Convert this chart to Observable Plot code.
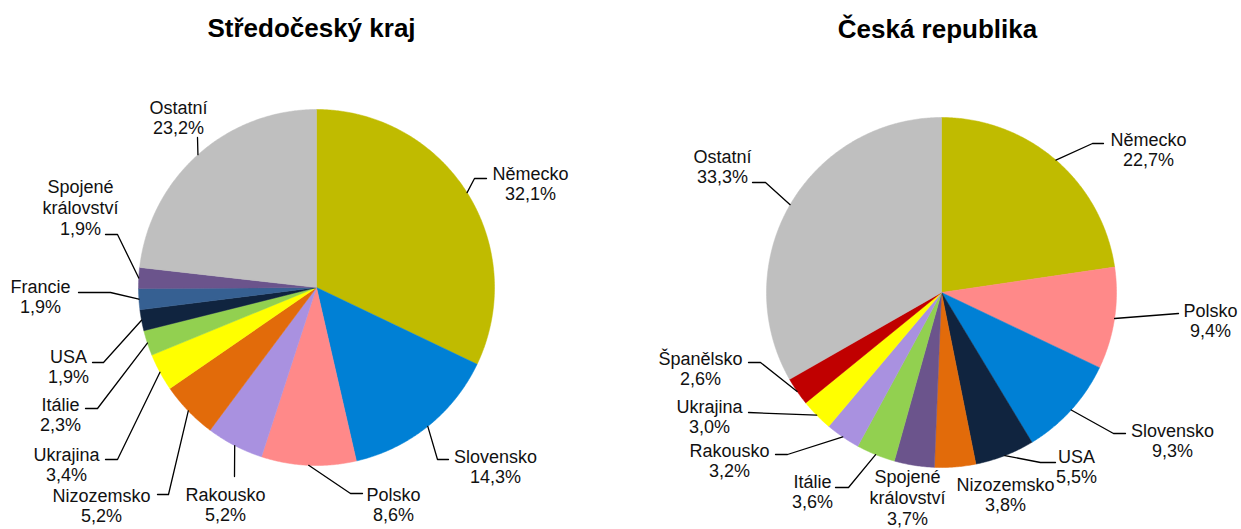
<!DOCTYPE html>
<html>
<head>
<meta charset="utf-8">
<script src="https://cdn.jsdelivr.net/npm/d3@7"></script>
<script src="https://cdn.jsdelivr.net/npm/@observablehq/plot@0.6"></script>
<style>
  html, body { margin: 0; padding: 0; background: #fff; }
  #chart svg { display: block; }
</style>
</head>
<body>
<div id="chart"></div>
<script>
// ---- Data ----
const titles = ["Středočeský kraj", "Česká republika"];

const scCountries = ["Německo", "Slovensko", "Polsko", "Rakousko", "Nizozemsko", "Ukrajina", "Itálie", "USA", "Francie", "Spojené království", "Ostatní"];
const scValues = [32.1, 14.3, 8.6, 5.2, 5.2, 3.4, 2.3, 1.9, 1.9, 1.9, 23.2];

const crCountries = ["Německo", "Polsko", "Slovensko", "USA", "Nizozemsko", "Spojené království", "Itálie", "Rakousko", "Ukrajina", "Španělsko", "Ostatní"];
const crValues = [22.7, 9.4, 9.3, 5.5, 3.8, 3.7, 3.6, 3.2, 3.0, 2.6, 33.3];

const colorDomain = ["Německo", "Slovensko", "Polsko", "Rakousko", "Nizozemsko", "Ukrajina", "Itálie", "USA", "Francie", "Spojené království", "Španělsko", "Ostatní"];
const colorRange = ["#C0BB00", "#0080D5", "#FF8989", "#A991E0", "#E26B0A", "#FFFF00", "#92D050", "#10243F", "#366092", "#6B548C", "#C00000", "#BFBFBF"];

// ---- Layout (pixels) ----
const W = 1241, H = 529;
const pies = [
  {cx: 316, cy: 287, r: 178, titleX: 311, titleY: 28},
  {cx: 941, cy: 292, r: 175, titleX: 937, titleY: 29}
];
// label block centre [x, y], leader polyline after the arc point (null = no leader)
const scLabelPos = [[530, 183], [495, 466], [393, 504], [225, 504], [101, 505], [66, 464], [60, 414], [68, 366], [40, 296], [80, 207], [178, 117]];
const scLeaders = [
  [[474, 178], [486, 178]],
  [[437, 459], [448, 459]],
  [[350, 493], [362, 493]],
  [[234, 476]],
  [[168, 494], [157, 494]],
  [[117, 459], [105, 459]],
  [[97, 408], [85, 408]],
  [[103, 362], [92, 362]],
  [[110, 292], [78, 292]],
  [[117, 234], [105, 234]],
  [[197, 137]]
];
const crLabelPos = [[1148, 149], [1210, 320], [1172, 440], [1076, 466], [1005, 494], [907, 497], [812, 491], [729, 460], [709, 416], [700, 368], [722, 166]];
const crLeaders = [
  [[1092, 143], [1103, 143]],
  [[1178, 313]],
  [[1113, 433], [1125, 433]],
  [[1040, 462], [1055, 462]],
  null,
  null,
  [[848, 487], [835, 487]],
  [[787, 454], [775, 454]],
  [[748, 412]],
  [[760, 362], [748, 362]],
  [[765, 182], [752, 182]]
];

// ---- Build mark data ----
const fmt = v => v.toFixed(1).replace(".", ",") + "%";
const series = [
  {names: scCountries, values: scValues, pos: scLabelPos, leaders: scLeaders, pie: pies[0]},
  {names: crCountries, values: crValues, pos: crLabelPos, leaders: crLeaders, pie: pies[1]}
];

const slicePts = [], leaderPts = [], labels = [], titleRows = [];
series.forEach((s, si) => {
  const {cx, cy, r} = s.pie;
  const arcs = d3.pie().sort(null).value(d => d)(s.values);
  arcs.forEach((a, i) => {
    const id = si + "-" + i;
    const name = s.names[i];
    const n = Math.max(2, Math.ceil((a.endAngle - a.startAngle) / (Math.PI / 360)));
    slicePts.push({id, name, x: cx, y: cy});
    for (let k = 0; k <= n; k++) {
      const t = a.startAngle + (a.endAngle - a.startAngle) * k / n;
      slicePts.push({id, name, x: cx + r * Math.sin(t), y: cy - r * Math.cos(t)});
    }
    slicePts.push({id, name, x: cx, y: cy});
    const mid = (a.startAngle + a.endAngle) / 2;
    const ld = s.leaders[i];
    if (ld) {
      leaderPts.push({id, x: cx + r * Math.sin(mid), y: cy - r * Math.cos(mid)});
      ld.forEach(p => leaderPts.push({id, x: p[0], y: p[1]}));
    }
    const label = name.replace(" ", "\n") + "\n" + fmt(s.values[i]);
    labels.push({x: s.pos[i][0], y: s.pos[i][1], text: label});
  });
  titleRows.push({x: s.pie.titleX, y: s.pie.titleY, text: titles[si]});
});

const chart = Plot.plot({
  width: W,
  height: H,
  margin: 0,
  x: {domain: [0, W], range: [0, W], axis: null},
  y: {domain: [0, H], range: [0, H], axis: null},
  color: {type: "ordinal", domain: colorDomain, range: colorRange},
  style: {background: "#fff"},
  marks: [
    Plot.line(slicePts, {x: "x", y: "y", z: "id", fill: "name", stroke: "name", strokeWidth: 0.5, curve: "linear"}),
    Plot.line(leaderPts, {x: "x", y: "y", z: "id", stroke: "#000", strokeWidth: 1.3, curve: "linear"}),
    Plot.text(labels, {x: "x", y: "y", text: "text", fontSize: 18, fontFamily: "Liberation Sans, Arial, sans-serif", fill: "#111", lineHeight: 1.15, lineAnchor: "middle", textAnchor: "middle"}),
    Plot.text(titleRows, {x: "x", y: "y", text: "text", fontSize: 26, fontWeight: "bold", fontFamily: "Liberation Sans, Arial, sans-serif", fill: "#000", lineAnchor: "middle", textAnchor: "middle"})
  ]
});
document.getElementById("chart").appendChild(chart);
</script>
</body>
</html>
